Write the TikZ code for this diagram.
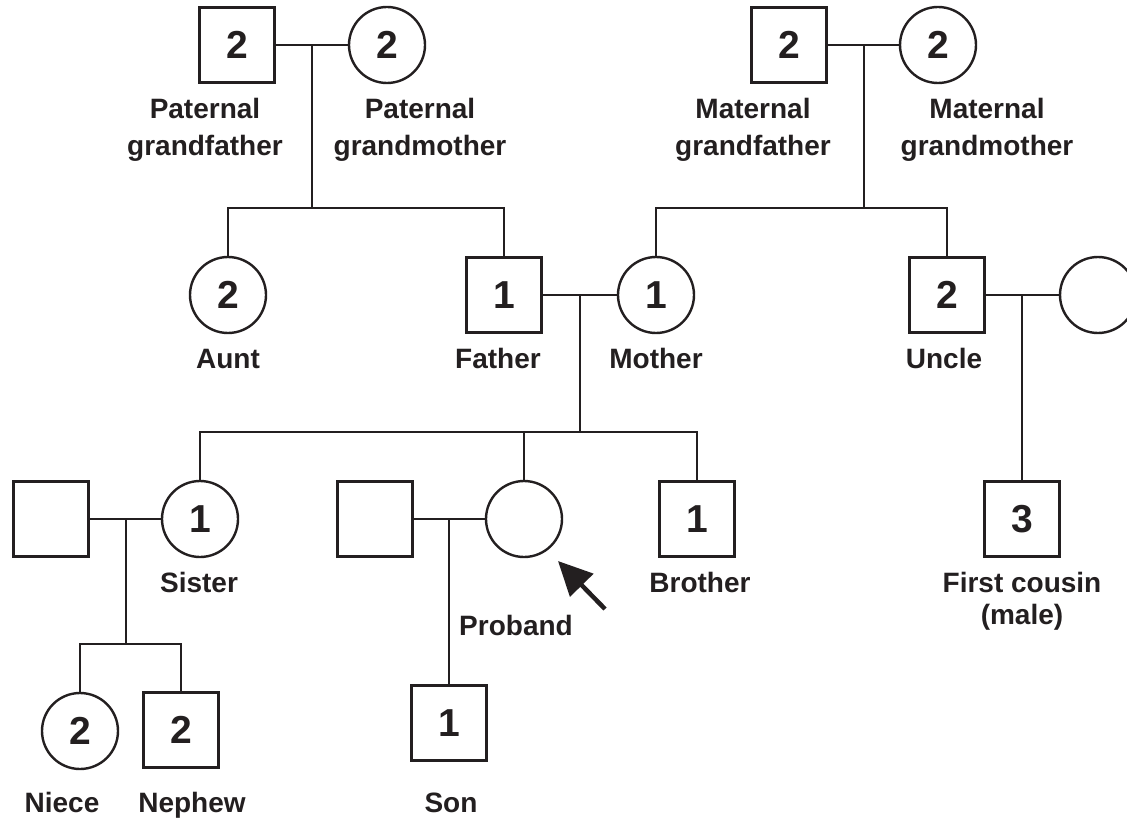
\documentclass[tikz,border=0pt]{standalone}
\usepackage{fontspec}
\setmainfont{Liberation Sans}
\usetikzlibrary{arrows.meta}
\definecolor{ink}{HTML}{231F20}
\begin{document}
\begin{tikzpicture}[x=1pt,y=-1pt,
  male/.style={draw=ink, line width=2.4pt, rectangle, minimum size=75pt, inner sep=0pt,
    font=\fontsize{39}{40}\selectfont\bfseries, text=ink},
  female/.style={draw=ink, line width=2.4pt, circle, minimum size=76pt, inner sep=0pt,
    font=\fontsize{39}{40}\selectfont\bfseries, text=ink},
  lbl/.style={font=\fontsize{28}{37}\selectfont\bfseries, text=ink, align=center, anchor=base, inner sep=0pt},
  link/.style={draw=ink, line width=2.4pt},
  pointer/.style={draw=ink, line width=4.5pt, -{Triangle[length=34pt,width=32pt]}},
]
\useasboundingbox (0,0) rectangle (1127,818);
\clip (0,0) rectangle (1127,818);

% generation I
\node[male]   (pgf) at (237,45) {2};
\node[female] (pgm) at (387,45) {2};
\node[male]   (mgf) at (789,45) {2};
\node[female] (mgm) at (938,45) {2};

% generation II
\node[female] (aunt)   at (228,295) {2};
\node[male]   (father) at (504,295) {1};
\node[female] (mother) at (656,295) {1};
\node[male]   (uncle)  at (947,295) {2};
\node[female] (uwife)  at (1098,295) {};

% generation III
\node[male]   (sspouse) at (51,519) {};
\node[female] (sister)  at (200,519) {1};
\node[male]   (pspouse) at (375,519) {};
\node[female] (proband) at (524,519) {};
\node[male]   (brother) at (697,519) {1};
\node[male]   (cousin)  at (1022,519) {3};

% generation IV
\node[female] (niece)  at (80,731) {2};
\node[male]   (nephew) at (181,730) {2};
\node[male]   (son)    at (449,723) {1};

% junctions
\coordinate (pj)  at (312,45);
\coordinate (pb)  at (312,208);
\coordinate (mj)  at (864,45);
\coordinate (mb)  at (864,208);
\coordinate (fj)  at (580,295);
\coordinate (sb)  at (580,432);
\coordinate (uj)  at (1022,295);
\coordinate (sj)  at (126,519);
\coordinate (nb)  at (126,644);
\coordinate (prj) at (449,519);
\coordinate (atail) at (605,609);
\coordinate (ahead) at (558,561);

% connectors
\draw[link] (pgf) -- (pgm);
\draw[link] (pj) -- (pb);
\draw[link] (aunt.north) |- (pb) -| (father.north);

\draw[link] (mgf) -- (mgm);
\draw[link] (mj) -- (mb);
\draw[link] (mother.north) |- (mb) -| (uncle.north);

\draw[link] (father) -- (mother);
\draw[link] (fj) -- (sb);
\draw[link] (sister.north) |- (sb) -| (brother.north);
\draw[link] (proband.north) -- (proband.north |- sb);

\draw[link] (uncle) -- (uwife);
\draw[link] (uj) -- (cousin.north);

\draw[link] (sspouse) -- (sister);
\draw[link] (sj) -- (nb);
\draw[link] (niece.north) |- (nb) -| (nephew.north);

\draw[link] (pspouse) -- (proband);
\draw[link] (prj) -- (son.north);

\draw[pointer] (atail) -- (ahead);

% labels (anchor=base is the baseline of the last line)
\node[lbl] (lpgf) at (205,156) {Paternal\\grandfather};
\node[lbl] (lpgm) at (420,156) {Paternal\\grandmother};
\node[lbl] (lmgf) at (753,156) {Maternal\\grandfather};
\node[lbl] (lmgm) at (987,156) {Maternal\\grandmother};
\node[lbl] (launt)   at (228,368) {Aunt};
\node[lbl] (lfather) at (498,368) {Father};
\node[lbl] (lmother) at (656,368) {Mother};
\node[lbl] (luncle)  at (944,368) {Uncle};
\node[lbl] (lsister)  at (199,592) {Sister};
\node[lbl] (lbrother) at (700,592) {Brother};
\node[lbl, font=\fontsize{28}{32}\selectfont\bfseries] (lcousin) at (1022,624) {First cousin\\(male)};
\node[lbl] (lproband) at (516,635) {Proband};
\node[lbl] (lniece)  at (62,812) {Niece};
\node[lbl] (lnephew) at (192,812) {Nephew};
\node[lbl] (lson)    at (451,812) {Son};
\end{tikzpicture}
\end{document}
